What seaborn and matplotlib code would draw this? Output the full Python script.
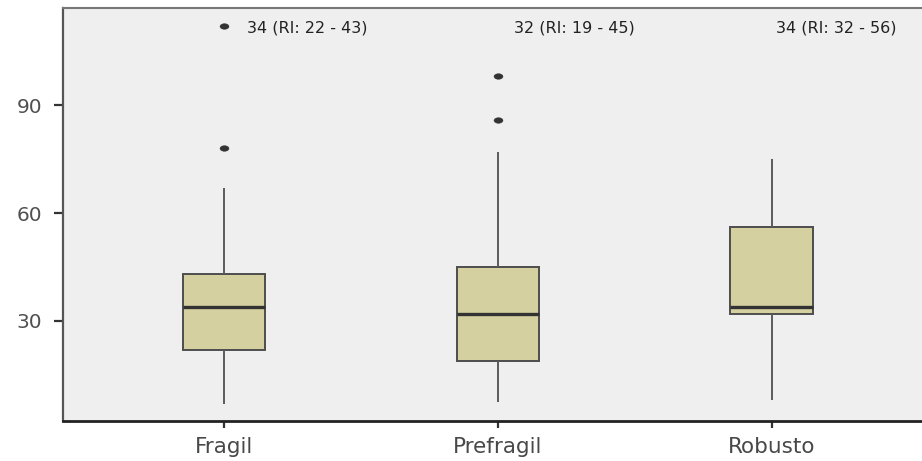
import matplotlib
matplotlib.use("Agg")
import matplotlib.pyplot as plt
from matplotlib.path import Path
from matplotlib.transforms import Affine2D
import seaborn as sns
import pandas as pd

# Frailty groups and their observed values
groups = ["Fragil", "Prefragil", "Robusto"]
fragil = [7, 12, 18, 22, 26, 30, 34, 37, 40, 43, 67, 78, 112]
prefragil = [7.5, 12, 15, 19, 24, 28, 32, 36, 40, 45, 77, 86, 98]
robusto = [8, 15, 25, 32, 33, 33.5, 34, 40, 48, 56, 62, 70, 75]

# Median (interquartile range) labels per group
labels = ["34 (RI: 22 - 43)", "32 (RI: 19 - 45)", "34 (RI: 32 - 56)"]
label_x = [0.084, 1.059, 2.018]
label_y = 111.4

y_ticks = [30, 60, 90]

df = pd.DataFrame({
    "grupo": [groups[0]] * len(fragil) + [groups[1]] * len(prefragil) + [groups[2]] * len(robusto),
    "valor": fragil + prefragil + robusto,
})

sns.set_style("white")
plt.rcParams["font.family"] = ["DejaVu Sans"]

# slightly wide oval marker for outliers
oval = Path.unit_circle().transformed(Affine2D().scale(1.6, 1.0))

fig = plt.figure(figsize=(9.22, 4.61), dpi=100)
ax = fig.add_axes([0.0683, 0.0868, 0.9317, 0.8958])
ax.set_facecolor("#efefef")

sns.boxplot(
    data=df, x="grupo", y="valor", order=groups, ax=ax,
    color="#d5d0a0", width=0.3, showcaps=False,
    linecolor="#4d4d4d", linewidth=1.4,
    boxprops=dict(facecolor="#d5d0a0", edgecolor="#4d4d4d"),
    whiskerprops=dict(color="#5a5a5a", linewidth=1.4),
    medianprops=dict(color="#333333", linewidth=2.4),
    flierprops=dict(marker=oval, markersize=6.5, markerfacecolor="#333333",
                    markeredgecolor="#333333", markeredgewidth=0.3),
)

for x, txt in zip(label_x, labels):
    ax.text(x, label_y, txt, ha="left", va="center", fontsize=11.5,
            family=["DejaVu Sans"], color="#222222")

ax.set_xlim(-0.59, 2.55)
ax.set_ylim(2.2, 117)
ax.set_yticks(y_ticks)
ax.set_yticklabels([str(v) for v in y_ticks])
ax.set_xlabel("")
ax.set_ylabel("")

ax.tick_params(axis="y", left=True, length=6.5, width=1.6, color="#333333",
               labelsize=14.5, labelcolor="#505050", pad=8.5)
ax.tick_params(axis="x", bottom=True, length=5, width=1.6, color="#333333",
               labelsize=15.5, labelcolor="#484848", pad=6.5)

ax.spines["left"].set_color("#555555")
ax.spines["left"].set_linewidth(1.6)
ax.spines["bottom"].set_color("#222222")
ax.spines["bottom"].set_linewidth(2)
ax.spines["top"].set_color("#777777")
ax.spines["top"].set_linewidth(1.5)
ax.spines["right"].set_visible(False)

fig.savefig("out.png", dpi=100)
